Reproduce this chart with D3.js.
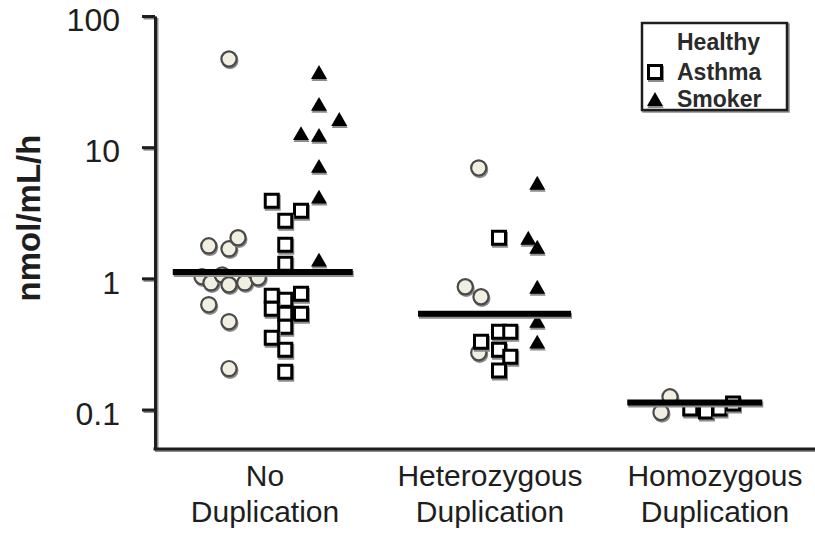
<!DOCTYPE html>
<html>
<head>
<meta charset="utf-8">
<script src="https://cdn.jsdelivr.net/npm/d3@7"></script>
<style>
  html, body { margin: 0; padding: 0; background: #fff; }
  svg { display: block; }
</style>
</head>
<body>
<svg id="chart" width="815" height="535"></svg>
<script>
// ---- data -------------------------------------------------------------
const groups = ["No Duplication", "Heterozygous Duplication", "Homozygous Duplication"];
const groupLabelLines = [["No", "Duplication"], ["Heterozygous", "Duplication"], ["Homozygous", "Duplication"]];
const yTickValues = [0.1, 1, 10, 100];
const yTickLabels = ["0.1", "1", "10", "100"];
const seriesNames = ["Healthy", "Asthma", "Smoker"];

// jitter = horizontal spread within a group, in % of the group spacing
const healthyGroup  = [0,0,0,0,0,0,0,0,0,0,0,0,0, 1,1,1,1, 2,2];
const healthyValue  = [47.0,1.77,1.68,2.04,1.03,0.925,1.06,0.894,0.925,1.01,0.63,0.467,0.205, 6.95,0.863,0.724,0.271, 0.125,0.095];
const healthyJitter = [-16,-25,-16,-12,-28,-24,-19,-16,-9,-3,-25,-16,-16, -5,-11,-4,-5, -20,-24];

const asthmaGroup  = [0,0,0,0,0,0,0,0,0,0,0,0,0,0,0, 1,1,1,1,1,1,1, 2,2,2,2];
const asthmaValue  = [3.90,3.27,2.75,1.80,1.29,0.736,0.687,0.763,0.586,0.537,0.537,0.428,0.353,0.286,0.194,
                      2.04,0.392,0.392,0.329,0.286,0.253,0.198, 0.102,0.0964,0.102,0.111];
const asthmaJitter = [3,16,9,9,9,3,9,16,3,9,16,9,3,9,9, 4,4,9,-4,4,9,4, -11,-4,2,8];

const smokerGroup  = [0,0,0,0,0,0,0,0, 1,1,1,1,1,1];
const smokerValue  = [37.4,21.4,16.4,12.8,12.4,7.2,4.2,1.39, 5.35,2.04,1.74,0.863,0.475,0.329];
const smokerJitter = [24,24,33,16,24,24,24,24, 21,17,21,21,21,21];

// group summary lines
const meanValue = [1.12, 0.537, 0.113];
const meanFrom  = [-41, -32, -39];
const meanTo    = [39, 36, 21];

// ---- layout -----------------------------------------------------------
const W = 815, H = 535;
const plotLeft = 155, plotBottom = 449, plotTop = 16;
const FONT = "'Liberation Sans', Arial, Helvetica, sans-serif";
const INK = "#1e1e1e", SHADOW = "#8c8c8c";

const svg = d3.select("#chart");

const x = d3.scalePoint().domain(groups).range([265, 715]);
const jit = d3.scaleLinear().domain([0, 100]).range([0, x.step()]);
const y = d3.scaleLog().domain([0.05, 100]).range([plotBottom, plotTop]);

const px = (g, j) => x(groups[g]) + jit(j);

// ---- axes -------------------------------------------------------------
const yAxis = d3.axisLeft(y)
  .tickValues(yTickValues)
  .tickFormat((d, i) => yTickLabels[i])
  .tickSize(13)
  .tickSizeOuter(0)
  .tickPadding(22);

function drawYAxis(offset, color, withText) {
  const g = svg.append("g")
    .attr("transform", `translate(${plotLeft + offset},${offset})`)
    .call(yAxis);
  g.select(".domain").attr("stroke", color).attr("stroke-width", 3);
  g.selectAll(".tick line").attr("stroke", color).attr("stroke-width", 3);
  if (withText) {
    g.selectAll(".tick text")
      .attr("fill", INK)
      .attr("font-family", FONT)
      .attr("font-size", 32)
      .attr("dy", "0.46em");
  } else {
    g.selectAll(".tick text").remove();
  }
  return g;
}
drawYAxis(1.5, SHADOW, false);
drawYAxis(0, INK, true);

// x baseline
svg.append("line")
  .attr("x1", plotLeft).attr("x2", W)
  .attr("y1", plotBottom + 1.5).attr("y2", plotBottom + 1.5)
  .attr("stroke", SHADOW).attr("stroke-width", 3);
svg.append("line")
  .attr("x1", plotLeft - 1.5).attr("x2", W)
  .attr("y1", plotBottom).attr("y2", plotBottom)
  .attr("stroke", INK).attr("stroke-width", 3);

// category labels
const cat = svg.append("g")
  .attr("font-family", FONT)
  .attr("font-size", 30)
  .attr("fill", INK)
  .attr("text-anchor", "middle");
groups.forEach((g, i) => {
  const t = cat.append("text").attr("x", x(g));
  groupLabelLines[i].forEach((line, k) => {
    t.append("tspan").attr("x", x(g)).attr("y", 486 + k * 36).text(line);
  });
});

// y-axis title
svg.append("text")
  .attr("transform", "translate(40,218) rotate(-90)")
  .attr("text-anchor", "middle")
  .attr("font-family", FONT)
  .attr("font-weight", "bold")
  .attr("font-size", 33)
  .attr("fill", INK)
  .text("nmol/mL/h");

// ---- markers ----------------------------------------------------------
const squareSym = d3.symbol().type(d3.symbolSquare).size(13 * 13);
const triSym = d3.symbol().type(d3.symbolTriangle).size(111);

function drawCircle(parent, cx, cy) {
  parent.append("circle").attr("cx", cx + 1).attr("cy", cy + 1.8).attr("r", 8.5).attr("fill", SHADOW);
  parent.append("circle").attr("cx", cx).attr("cy", cy).attr("r", 7.6)
    .attr("fill", "#f1efe2").attr("stroke", "#4a4a4a").attr("stroke-width", 2.2);
}
function drawSquare(parent, cx, cy) {
  parent.append("path").attr("d", squareSym()).attr("transform", `translate(${cx + 1},${cy + 2})`)
    .attr("fill", "none").attr("stroke", SHADOW).attr("stroke-width", 3);
  parent.append("path").attr("d", squareSym()).attr("transform", `translate(${cx},${cy})`)
    .attr("fill", "#fff").attr("stroke", "#000").attr("stroke-width", 3);
}
function drawTriangle(parent, cx, cy) {
  // shift so the bounding box (not the centroid) sits on the value
  const cyb = cy + 2.3;
  parent.append("path").attr("d", triSym()).attr("transform", `translate(${cx + 0.5},${cyb + 2})`)
    .attr("fill", SHADOW);
  parent.append("path").attr("d", triSym()).attr("transform", `translate(${cx},${cyb})`)
    .attr("fill", "#000");
}

const marks = svg.append("g");
healthyValue.forEach((v, i) => drawCircle(marks, px(healthyGroup[i], healthyJitter[i]), y(v)));
asthmaValue.forEach((v, i) => drawSquare(marks, px(asthmaGroup[i], asthmaJitter[i]), y(v)));
smokerValue.forEach((v, i) => drawTriangle(marks, px(smokerGroup[i], smokerJitter[i]), y(v)));

// group summary bars
const means = svg.append("g");
meanValue.forEach((v, i) => {
  means.append("line")
    .attr("x1", px(i, meanFrom[i]) + 1).attr("x2", px(i, meanTo[i]) + 1)
    .attr("y1", y(v) + 2).attr("y2", y(v) + 2)
    .attr("stroke", SHADOW).attr("stroke-width", 6);
  means.append("line")
    .attr("x1", px(i, meanFrom[i])).attr("x2", px(i, meanTo[i]))
    .attr("y1", y(v)).attr("y2", y(v))
    .attr("stroke", "#000").attr("stroke-width", 6);
});

// ---- legend -----------------------------------------------------------
const lg = svg.append("g").attr("transform", "translate(642,23)");
lg.append("rect").attr("x", 1.5).attr("y", 1.5).attr("width", 145).attr("height", 87)
  .attr("fill", "none").attr("stroke", SHADOW).attr("stroke-width", 2.5);
lg.append("rect").attr("x", 0).attr("y", 0).attr("width", 145).attr("height", 87)
  .attr("fill", "#fff").attr("stroke", INK).attr("stroke-width", 2.5);

const legendRowY = [19, 49, 76];
seriesNames.forEach((name, i) => {
  const cy = legendRowY[i];
  if (name === "Asthma") drawSquare(lg, 13, cy);
  if (name === "Smoker") drawTriangle(lg, 13, cy);
  lg.append("text")
    .attr("x", 35).attr("y", cy).attr("dy", "0.36em")
    .attr("font-family", FONT).attr("font-weight", "bold").attr("font-size", 23)
    .attr("fill", "#2a2a2a")
    .text(name);
});
</script>
</body>
</html>
